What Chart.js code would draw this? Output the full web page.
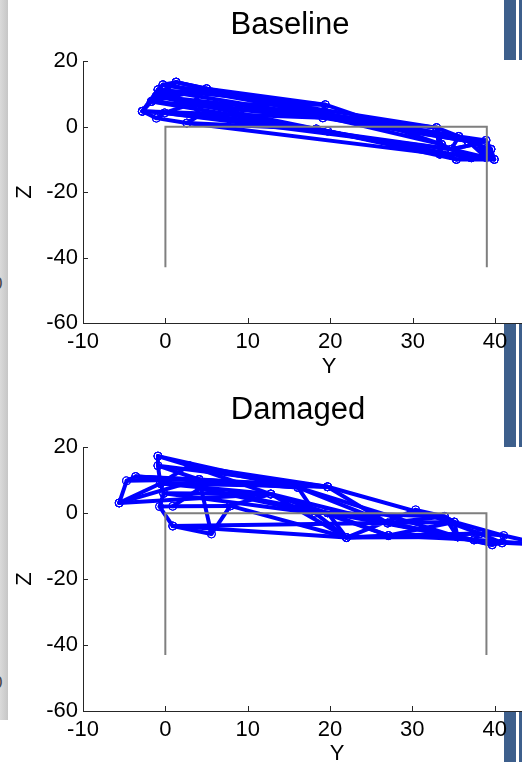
<!DOCTYPE html>
<html>
<head>
<meta charset="utf-8">
<script src="https://cdn.jsdelivr.net/npm/chart.js@4.4.1/dist/chart.umd.min.js"></script>
<style>
  html, body { margin: 0; padding: 0; background: #fff; }
  body { width: 522px; height: 762px; overflow: hidden; position: relative; }
  .strip { position: absolute; left: 0; top: 0; width: 8px; height: 720px; background: linear-gradient(to right, #dadada, #c6c6c6); }
  .frag { position: absolute; left: -7px; font: 17px "Liberation Sans", Arial, sans-serif; color: #444; }
  .bar { position: absolute; background: #3d5f8c; }
  canvas { position: absolute; left: 0; }
  #cBase { top: 0; }
  #cDam { top: 380px; }
</style>
</head>
<body>
<!-- bits of the slide behind the figure -->
<div class="strip"></div>
<span class="frag" style="top:274px">0</span>
<span class="frag" style="top:673px">0</span>
<div class="bar" style="left:504px;top:0;width:12px;height:60px"></div>
<div class="bar" style="left:519px;top:0;width:3px;height:60px"></div>
<div class="bar" style="left:504px;top:323px;width:12px;height:124px"></div>
<div class="bar" style="left:519px;top:323px;width:3px;height:124px"></div>
<div class="bar" style="left:504px;top:712px;width:12px;height:50px"></div>
<div class="bar" style="left:519px;top:712px;width:3px;height:50px"></div>

<canvas id="cBase" width="580" height="380"></canvas>
<canvas id="cDam" width="596" height="400"></canvas>

<script>
const FONT = '"Liberation Sans", Arial, Helvetica, sans-serif';

// axis ticks (horizontal axis is Y, vertical axis is Z)
const ticksY = [-10, 0, 10, 20, 30, 40];
const ticksZ = [-60, -40, -20, 0, 20];

// grey support frame
const frameY = [0, 0, 39, 39];
const frameZ = [-43, 0, 0, -43];

// wireframe polylines, [Y, Z] per node
const baselinePaths = [
  [[-2.8, 4.7], [-0.3, 12.8], [1.3, 13.6], [5.0, 11.6], [19.4, 6.7], [19.1, 2.7]],
  [[1.3, 13.6], [21.2, 3.1], [32.9, -0.3], [35.6, -3.0], [36.7, -4.4], [38.9, -4.2], [39.5, -6.9], [39.9, -10.0]],
  [[-0.9, 11.3], [19.4, 6.7], [33.5, -5.4], [34.7, -6.9], [37.9, -5.2], [38.9, -4.2]],
  [[-0.3, 12.8], [21.2, 3.1], [36.7, -4.4], [37.9, -5.2], [38.9, -9.4], [37.1, -9.5], [35.3, -10.0], [33.3, -8.4], [33.5, -5.4]],
  [[-1.1, 9.3], [5.0, 11.6], [3.1, 6.9], [-0.1, 4.2], [-1.1, 2.6], [-2.8, 4.7], [-1.7, 7.7], [-0.9, 11.3], [-0.3, 12.8]],
  [[-1.7, 7.7], [1.3, 13.6]],
  [[-1.1, 2.6], [2.6, 1.1], [4.3, 3.7], [3.1, 6.9]],
  [[-0.1, 4.2], [19.7, -1.4], [33.3, -8.4], [35.3, -10.0]],
  [[2.6, 1.1], [18.3, -0.7], [19.7, -1.4], [35.3, -10.0], [37.1, -9.5]],
  [[-2.8, 4.7], [4.3, 3.7], [34.7, -6.9], [37.1, -9.5]],
  [[-1.1, 9.3], [21.2, 3.1], [35.6, -3.0]],
  [[3.1, 6.9], [32.9, -0.3], [33.5, -5.4]],
  [[4.3, 3.7], [18.3, -0.7]],
  [[5.0, 11.6], [-1.7, 7.7]],
  [[39.5, -6.9], [38.9, -9.4], [39.9, -10.0], [37.1, -9.5], [34.7, -6.9]],
  [[-0.9, 11.3], [36.7, -4.4]],
  [[1.3, 13.6], [-1.1, 9.3]],
  [[-1.7, 7.7], [18.3, -0.7]],
  [[-2.8, 4.7], [19.1, 2.7]],
  [[-0.3, 12.8], [32.9, -0.3]],
  [[1.3, 13.6], [33.5, -5.4]],
  [[5.0, 11.6], [21.2, 3.1], [35.6, -3.0], [38.9, -4.2]],
  [[-1.1, 9.3], [33.3, -8.4]],
  [[-0.1, 4.2], [34.7, -6.9], [38.9, -9.4]],
  [[3.1, 6.9], [19.4, 6.7]],
  [[-1.7, 7.7], [19.1, 2.7], [36.7, -4.4], [39.5, -6.9]],
  [[2.6, 1.1], [33.3, -8.4]],
  [[-2.8, 4.7], [-0.9, 11.3]],
  [[32.9, -0.3], [33.3, -8.4], [35.3, -10.0], [39.9, -10.0]],
  [[35.6, -3.0], [34.7, -6.9], [37.9, -5.2], [39.9, -10.0]],
  [[36.7, -4.4], [38.9, -9.4], [39.5, -6.9]],
  [[18.3, -0.7], [37.1, -9.5]]
];

const damagedPaths = [
  [[-0.9, 17.3], [2.9, 14.4], [19.7, 8.0], [27.0, -3.0], [33.9, -1.0], [35.1, -2.7], [35.5, -7.2], [39.7, -9.6], [40.9, -9.0]],
  [[-0.9, 17.3], [-0.9, 14.4], [-0.6, 9.0], [-0.2, 6.0], [-0.7, 2.0], [0.9, -3.9], [5.6, -6.3], [7.9, 2.2], [22.0, -7.4], [27.1, -6.8], [38.2, -6.2], [41.1, -6.8], [46.0, -9.6]],
  [[-5.6, 3.1], [-4.7, 9.8], [-3.6, 11.1], [19.7, 8.0]],
  [[-5.6, 3.1], [-0.6, 9.0], [2.9, 14.4], [16.1, 7.8], [35.5, -7.2], [37.5, -8.1], [39.7, -9.6]],
  [[-5.6, 3.1], [4.1, 10.2], [5.6, -6.3]],
  [[-5.6, 3.1], [12.8, 5.8], [27.1, -6.8], [37.5, -8.1], [38.2, -6.2], [40.9, -9.0], [46.0, -9.6]],
  [[-4.7, 9.8], [4.1, 10.2], [4.2, 7.5], [0.9, 2.1], [-0.7, 2.0]],
  [[0.9, -3.9], [35.1, -2.7], [33.9, -1.0], [30.4, 1.0], [22.0, -7.4]],
  [[-0.9, 14.4], [4.1, 10.2], [19.7, 8.0]],
  [[-0.2, 6.0], [12.8, 5.8], [19.7, 0.1], [22.0, -7.4]],
  [[-0.6, 9.0], [19.7, 8.0]],
  [[4.2, 7.5], [18.2, 0.0], [19.7, 0.1], [27.1, -6.8]],
  [[-3.6, 11.1], [16.1, 7.8], [18.2, 0.0]],
  [[7.9, 2.2], [12.8, 5.8]],
  [[30.4, 1.0], [38.2, -6.2]],
  [[0.9, 2.1], [7.9, 2.2]],
  [[-0.9, 14.4], [19.7, 8.0], [35.1, -2.7]],
  [[2.9, 14.4], [12.8, 5.8], [27.0, -3.0], [37.5, -8.1]],
  [[4.1, 10.2], [16.1, 7.8], [27.0, -3.0], [39.7, -9.6]],
  [[4.2, 7.5], [19.7, 0.1], [35.5, -7.2]],
  [[-0.2, 6.0], [18.2, 0.0], [22.0, -7.4], [35.5, -7.2]],
  [[-0.9, 17.3], [16.1, 7.8]],
  [[-0.6, 9.0], [12.8, 5.8], [22.0, -7.4]],
  [[-3.6, 11.1], [4.1, 10.2]],
  [[0.9, -3.9], [22.0, -7.4], [38.2, -6.2]],
  [[19.7, 0.1], [33.9, -1.0], [35.5, -7.2]],
  [[27.1, -6.8], [35.1, -2.7], [41.1, -6.8], [40.9, -9.0]],
  [[27.0, -3.0], [37.5, -8.1], [46.0, -9.6]]
];

// MATLAB-style ticks pointing into the axes
const inwardTicks = {
  id: 'inwardTicks',
  beforeDatasetsDraw(chart) {
    const { ctx, chartArea: a, scales: { x, y } } = chart;
    ctx.save();
    ctx.strokeStyle = '#262626';
    ctx.lineWidth = 1;
    ctx.beginPath();
    ticksY.forEach(v => {
      const px = Math.round(x.getPixelForValue(v)) + 0.5;
      ctx.moveTo(px, a.bottom);
      ctx.lineTo(px, a.bottom - 5);
    });
    ticksZ.forEach(v => {
      const py = Math.round(y.getPixelForValue(v)) + 0.5;
      ctx.moveTo(a.left, py);
      ctx.lineTo(a.left + 5, py);
    });
    ctx.stroke();
    ctx.restore();
  }
};

function makeChart(id, title, paths, cfg) {
  const datasets = [{
    data: frameY.map((v, i) => ({ x: v, y: frameZ[i] })),
    showLine: true, borderColor: '#7f7f7f', borderWidth: 2,
    pointRadius: 0, order: 0
  }];
  paths.forEach(p => datasets.push({
    data: p.map(([yv, zv]) => ({ x: yv, y: zv })),
    showLine: true, borderColor: '#0000ff', borderWidth: 4,
    borderJoinStyle: 'round', borderCapStyle: 'round',
    pointRadius: 4, pointBorderWidth: 1, pointBorderColor: '#0000ff',
    pointBackgroundColor: 'rgba(0,0,0,0)', order: 1
  }));

  return new Chart(document.getElementById(id), {
    type: 'scatter',
    data: { datasets },
    options: {
      responsive: false, animation: false, devicePixelRatio: 1,
      layout: { padding: 0 },
      events: [],
      plugins: {
        legend: { display: false },
        tooltip: { enabled: false },
        title: {
          display: true, text: title, color: '#000',
          font: { family: FONT, size: 31, weight: 'normal' },
          padding: cfg.titlePad
        }
      },
      scales: {
        x: {
          type: 'linear', min: -10, max: cfg.xMax,
          afterBuildTicks: s => { s.ticks = ticksY.map(v => ({ value: v })); },
          afterFit: s => { s.height = cfg.xAxisH; },
          grid: { display: false, drawTicks: false },
          border: { display: true, color: '#262626', width: 1 },
          ticks: { color: '#000', font: { family: FONT, size: 22 }, padding: 6, maxRotation: 0, autoSkip: false },
          title: { display: true, text: 'Y', color: '#000', font: { family: FONT, size: 22 }, padding: { top: 0, bottom: cfg.xTitlePad } }
        },
        y: {
          type: 'linear', min: -60, max: 20,
          afterBuildTicks: s => { s.ticks = ticksZ.map(v => ({ value: v })); },
          afterFit: s => { s.width = 83; },
          grid: { display: false, drawTicks: false },
          border: { display: true, color: '#262626', width: 1 },
          ticks: { color: '#000', font: { family: FONT, size: 22 }, padding: 5, autoSkip: false },
          title: { display: true, text: 'Z', color: '#000', font: { family: FONT, size: 22 }, padding: { top: 12, bottom: 0 } }
        }
      }
    },
    plugins: [inwardTicks]
  });
}

makeChart('cBase', 'Baseline', baselinePaths, { xMax: 49.7, titlePad: { top: 7, bottom: 17 }, xAxisH: 57, xTitlePad: 0 });
makeChart('cDam', 'Damaged', damagedPaths, { xMax: 51.7, titlePad: { top: 12, bottom: 18 }, xAxisH: 69, xTitlePad: 13 });
</script>
</body>
</html>
